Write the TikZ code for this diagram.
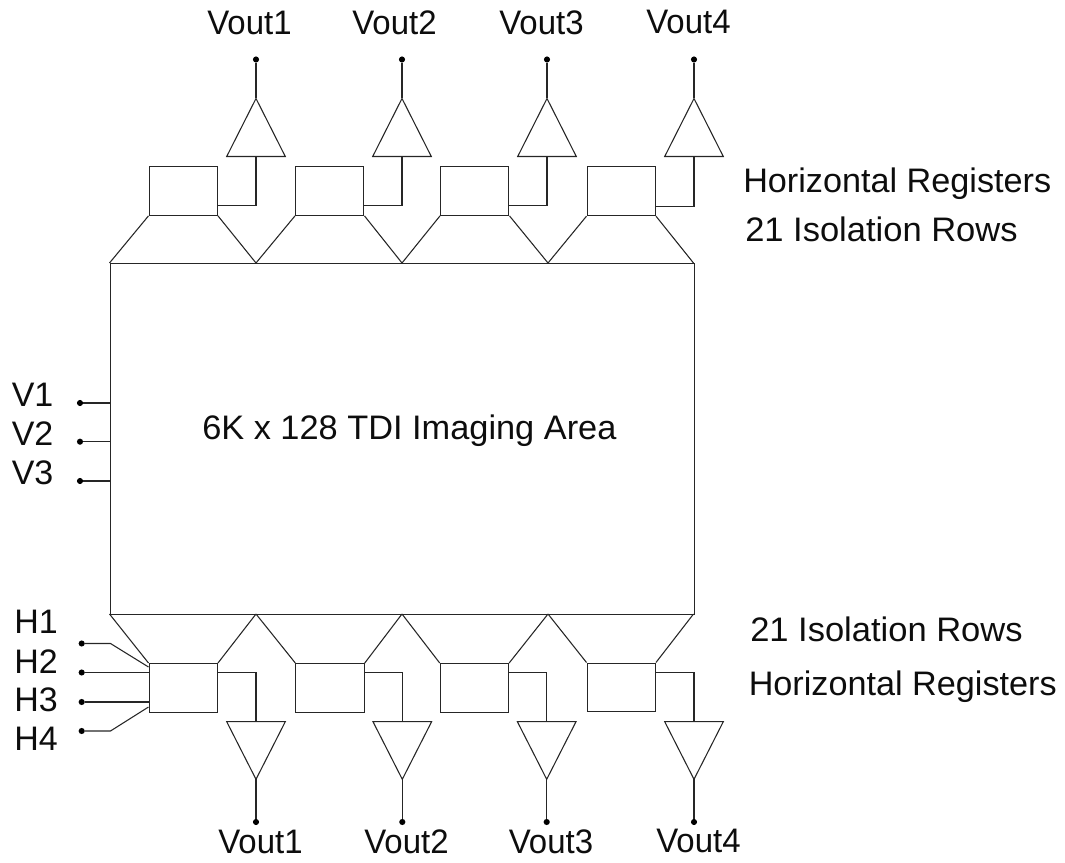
\documentclass[tikz,border=0pt]{standalone}
\usepackage{fontspec}
\setmainfont{Liberation Sans}
\newfontfamily\voutf[FakeStretch=0.97]{Liberation Sans}
\newfontfamily\widef[FakeStretch=1.01]{Liberation Sans}
\newfontfamily\sidef[FakeStretch=1.015]{Liberation Sans}
\newfontfamily\sideg[FakeStretch=1.006]{Liberation Sans}
\tikzset{
  x=0.75pt,y=-0.75pt,
  wire/.style={draw=black!85,line width=0.8pt,line join=miter},
  regbox/.style={draw=black!85,line width=0.8pt,rectangle,inner sep=0pt,anchor=north west,minimum width=51.3pt,minimum height=36.6pt},
  area/.style={draw=black!85,line width=0.8pt,rectangle,inner sep=0pt,anchor=north west,minimum width=438.5pt,minimum height=263pt},
  pin/.style={circle,fill=black,inner sep=0pt,minimum size=4.6pt},
  lbl/.style={inner sep=0pt,anchor=base west,font=\fontsize{25.5pt}{30pt}\selectfont,text=black!95},
}
\begin{document}
\begin{tikzpicture}
\useasboundingbox (0,0) rectangle (1065,863);
% imaging area
\node[area] (A) at (109.5,263) {};
\node[lbl] (title) at (202,439) {\widef 6K x 128 TDI Imaging Area};
% apex points
\coordinate (T0) at (109.5,263);
\coordinate (T1) at (256,263);
\coordinate (T2) at (402,263);
\coordinate (T3) at (548,263);
\coordinate (T4) at (693.5,263);
\coordinate (B0) at (109.5,614);
\coordinate (B1) at (256,614);
\coordinate (B2) at (402,614);
\coordinate (B3) at (548,614);
\coordinate (B4) at (693.5,614);
% top section
\foreach \i/\bx/\by/\prev/\cx/\lx/\ly in {1/148.5/166/0/256/207/35,2/295/166/1/402/352/35,3/440/166/2/547/499/35,4/586.5/166.3/3/694/646/34}{
  \node[regbox] (TR\i) at (\bx,\by) {};
  \draw[wire] (T\prev) -- (TR\i.south west);
  \draw[wire] (TR\i.south east) -- (T\i);
  \coordinate (TA\i) at (\cx,98.5);
  \coordinate (TL\i) at (\cx-29.3,156.5);
  \coordinate (TM\i) at (\cx,156.5);
  \coordinate (TN\i) at (\cx+29.3,156.5);
  \draw[wire] (TA\i) -- (TL\i) -- (TN\i) -- cycle;
  \coordinate (TS\i) at ([yshift=7.5pt]TR\i.south east);
  \draw[wire] (TS\i) -| (TM\i);
  \node[pin] (TP\i) at (\cx,59.5) {};
  \draw[wire] (TA\i) -- (TP\i);
  \node[lbl] (TV\i) at (\lx,\ly) {\voutf Vout\i};
}
% bottom section
\foreach \i/\bx/\by/\prev/\cx/\lx/\ly in {1/148.5/663/0/256/218/853,2/295.3/663/1/402.3/364/853,3/439.7/663/2/546.7/508.5/853,4/586.5/662.5/3/694/656/852}{
  \node[regbox] (BR\i) at (\bx,\by) {};
  \draw[wire] (B\prev) -- (BR\i.north west);
  \draw[wire] (BR\i.north east) -- (B\i);
  \coordinate (BA\i) at (\cx,779.3);
  \coordinate (BL\i) at (\cx-29.3,721.7);
  \coordinate (BM\i) at (\cx,721.7);
  \coordinate (BN\i) at (\cx+29.3,721.7);
  \draw[wire] (BA\i) -- (BL\i) -- (BN\i) -- cycle;
  \coordinate (BS\i) at ([yshift=-7.3pt]BR\i.north east);
  \draw[wire] (BS\i) -| (BM\i);
  \node[pin] (BP\i) at (\cx,822) {};
  \draw[wire] (BA\i) -- (BP\i);
  \node[lbl] (BV\i) at (\lx,\ly) {\voutf Vout\i};
}
% V clocks
\foreach \i/\py/\ly in {1/403/406.7,2/441.7/445.7,3/481/484.5}{
  \node[pin] (VP\i) at (80,\py) {};
  \coordinate (VE\i) at (109.5,\py);
  \draw[wire] (VP\i) -- (VE\i);
  \node[lbl] (VL\i) at (11.5,\ly) {V\i};
}
% H clocks
\node[pin] (HP1) at (81.7,643.5) {};
\node[pin] (HP2) at (81.7,672.5) {};
\node[pin] (HP3) at (81.7,702) {};
\node[pin] (HP4) at (81.7,731) {};
\coordinate (HK1) at (110.5,643.5);
\coordinate (HK4) at (110.5,731);
\coordinate (HE1) at (148.5,667);
\coordinate (HE2) at (150,672.5);
\coordinate (HE3) at (150,702);
\coordinate (HE4) at (148.5,707);
\draw[wire] (HP1) -- (HK1) -- (HE1);
\draw[wire] (HP2) -- (HE2);
\draw[wire] (HP3) -- (HE3);
\draw[wire] (HP4) -- (HK4) -- (HE4);
\node[lbl] (HL1) at (14,633) {H1};
\node[lbl] (HL2) at (14,673) {H2};
\node[lbl] (HL3) at (14,711) {H3};
\node[lbl] (HL4) at (14,750) {H4};
% side labels
\node[lbl] (RA) at (743,192.7) {\sideg Horizontal Registers};
\node[lbl] (RB) at (745,241.7) {\sidef 21 Isolation Rows};
\node[lbl] (RC) at (750,641.5) {\sidef 21 Isolation Rows};
\node[lbl] (RD) at (748.5,695) {\sideg Horizontal Registers};
\end{tikzpicture}
\end{document}
